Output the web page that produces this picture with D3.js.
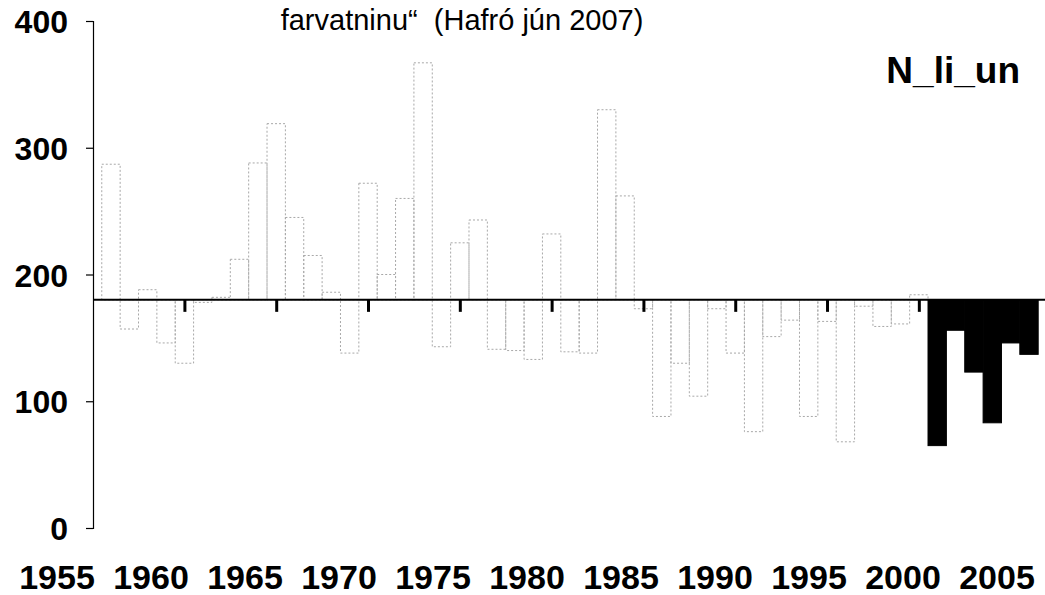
<html>
    <head>
        <script src="https://d3js.org/d3.v7.min.js" charset="utf-8"></script>
    </head>

    <style>
        body{
            margin:0;
            background:white;
        }
        text{
            font-family:'Liberation Sans', Arial, sans-serif;
            fill:black;
        }
    </style>

    <body>
    </body>

    <script>
        // recruitment by year, baseline = long term mean
        const years = [1956,1957,1958,1959,1960,1961,1962,1963,1964,1965,
                       1966,1967,1968,1969,1970,1971,1972,1973,1974,1975,
                       1976,1977,1978,1979,1980,1981,1982,1983,1984,1985,
                       1986,1987,1988,1989,1990,1991,1992,1993,1994,1995,
                       1996,1997,1998,1999,2000,2001,2002,2003,2004,2005,2006];
        const values = [287,157,188,146,130,178,182,212,288,319,
                        245,215,186,138,272,200,260,367,143,225,
                        243,141,140,133,232,139,138,330,262,173,
                        88,130,104,173,138,76,151,164,88,163,
                        68,175,159,161,184,65,156,123,83,146,137];
        const forecastYears = [2001,2002,2003,2004,2005,2006];
        const baseValue = 180;
        const yTicks = [0,100,200,300,400];
        const xTickYears = [1955,1960,1965,1970,1975,1980,1985,1990,1995,2000,2005];
        const titleText = 'farvatninu\u201C  (Hafró jún 2007)';
        const tagText = 'N_li_un';

        const w = 1045;
        const h = 595;

        const data = years.map((d,i)=>({year:d, value:values[i]}));

        const xScale = d3.scaleLinear().domain([1955,2006]).range([92.6,1029]);
        // the year labels in the picture are spread a bit wider than the bars
        const labelScale = d3.scaleLinear().domain([1955,2005]).range([57,997]);
        const yScale = d3.scaleLinear().domain([0,400]).range([528,21]);
        const barW = xScale(1956)-xScale(1955);

        const svg = d3.select('body')
                    .append('svg')
                    .attr('width',w)
                    .attr('height',h);

        // bars, drawn from the mean line
        svg.selectAll('rect.bar')
            .data(data)
            .enter()
            .append('rect')
            .attr('class','bar')
            .attr('x',(d)=>xScale(d.year)-barW/2)
            .attr('width',barW)
            .attr('y',(d)=>yScale(Math.max(d.value,baseValue)))
            .attr('height',(d)=>Math.abs(yScale(d.value)-yScale(baseValue)))
            .attr('fill',(d)=>forecastYears.includes(d.year) ? 'black' : 'none')
            .attr('stroke',(d)=>forecastYears.includes(d.year) ? 'black' : '#a8a8a8')
            .attr('stroke-width',1)
            .attr('stroke-dasharray',(d)=>forecastYears.includes(d.year) ? null : '2,2');

        // y axis
        const yAxis = d3.axisLeft(yScale)
                        .tickValues(yTicks)
                        .tickSize(7)
                        .tickPadding(18)
                        .tickFormat(d3.format('d'));

        const gy = svg.append('g')
            .attr('transform','translate(93,0)')
            .call(yAxis);
        gy.select('.domain').attr('stroke','black').attr('stroke-width',1.2);
        gy.selectAll('.tick line').attr('stroke','black').attr('stroke-width',1.2);
        gy.selectAll('.tick text')
            .style('font-size','32px')
            .style('font-weight','bold')
            .attr('dy','0.36em');

        // mean line with year ticks hanging below it
        const xAxis = d3.axisBottom(xScale)
                        .tickValues(xTickYears.filter((d)=>d>1955 && d<2005))
                        .tickSize(12)
                        .tickFormat('');

        const gx = svg.append('g')
            .attr('transform','translate(0,'+yScale(baseValue)+')')
            .call(xAxis);
        gx.select('.domain').remove();
        gx.selectAll('.tick line').attr('stroke','black').attr('stroke-width',3);

        svg.append('line')
            .attr('x1',93)
            .attr('x2',w)
            .attr('y1',yScale(baseValue))
            .attr('y2',yScale(baseValue))
            .attr('stroke','black')
            .attr('stroke-width',2);

        // year labels
        svg.selectAll('text.xlab')
            .data(xTickYears)
            .enter()
            .append('text')
            .attr('class','xlab')
            .attr('x',(d)=>labelScale(d))
            .attr('y',589)
            .attr('text-anchor','middle')
            .style('font-size','34px')
            .style('font-weight','bold')
            .text((d)=>d);

        svg.append('text')
            .attr('x',462)
            .attr('y',30)
            .attr('text-anchor','middle')
            .style('font-size','29px')
            .style('white-space','pre')
            .text(titleText);

        svg.append('text')
            .attr('x',1020)
            .attr('y',83)
            .attr('text-anchor','end')
            .style('font-size','37px')
            .style('font-weight','bold')
            .text(tagText);
    </script>
</html>
